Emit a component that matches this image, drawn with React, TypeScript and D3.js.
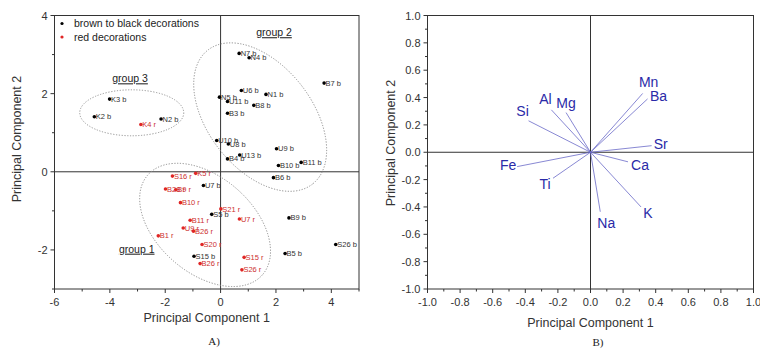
import React, { useEffect, useRef } from 'react';
import * as d3 from 'd3';

// sample scores: [label, PC1, PC2]
const brownScores: [string, number, number][] = [
  ['N7 b', 0.67, 3.03],
  ['N4 b', 1.03, 2.92],
  ['B7 b', 3.74, 2.27],
  ['U6 b', 0.75, 2.08],
  ['N1 b', 1.64, 1.98],
  ['N5 b', -0.04, 1.91],
  ['U11 b', 0.25, 1.8],
  ['B8 b', 1.2, 1.7],
  ['B3 b', 0.25, 1.5],
  ['K3 b', -4.01, 1.86],
  ['K2 b', -4.56, 1.41],
  ['N2 b', -2.15, 1.35],
  ['U10 b', -0.14, 0.8],
  ['U8 b', 0.28, 0.71],
  ['U9 b', 2.02, 0.59],
  ['U13 b', 0.69, 0.43],
  ['B4 b', 0.25, 0.33],
  ['B10 b', 2.09, 0.16],
  ['B11 b', 2.91, 0.24],
  ['B6 b', 1.91, -0.15],
  ['U7 b', -0.62, -0.35],
  ['S5 b', -0.32, -1.09],
  ['B9 b', 2.47, -1.18],
  ['S26 b', 4.16, -1.86],
  ['B5 b', 2.33, -2.09],
  ['S15 b', -0.96, -2.16]
];

const redScores: [string, number, number][] = [
  ['K4 r', -2.88, 1.21],
  ['S16 r', -1.74, -0.11],
  ['K5 r', -0.9, -0.04],
  ['B28 r', -1.99, -0.44],
  ['B9 r', -1.62, -0.46],
  ['B10 r', -1.45, -0.79],
  ['S21 r', 0.01, -0.95],
  ['U7 r', 0.68, -1.21],
  ['B11 r', -1.1, -1.24],
  ['U9 r', -1.35, -1.44],
  ['B26 r', -0.98, -1.52],
  ['B1 r', -2.25, -1.64],
  ['S20 r', -0.67, -1.86],
  ['S15 r', 0.85, -2.19],
  ['B26 r', -0.74, -2.35],
  ['S26 r', 0.77, -2.51]
];

// group outlines: center in data units, radii in px, rotation in degrees
const groups = [
  { name: 'group 1', cx: -0.56, cy: -1.36, rx: 76, ry: 48, angle: 41, lx: -3.03, ly: -2.07 },
  { name: 'group 2', cx: 1.43, cy: 1.4, rx: 85, ry: 52, angle: 52, lx: 1.93, ly: 3.47 },
  { name: 'group 3', cx: -3.21, cy: 1.51, rx: 52, ry: 23, angle: 0, lx: -3.27, ly: 2.29 }
];

// loadings
const elements = ['Si', 'Al', 'Mg', 'Mn', 'Ba', 'Sr', 'Ca', 'Fe', 'Ti', 'Na', 'K'];
const loadPC1 = [-0.38, -0.24, -0.15, 0.32, 0.35, 0.375, 0.23, -0.45, -0.23, 0.06, 0.31];
const loadPC2 = [0.23, 0.31, 0.29, 0.43, 0.39, 0.048, -0.07, -0.105, -0.19, -0.435, -0.4];
// label nudges (px) from the vector tip
const labelNudge: [number, number][] = [
  [-6, -5], [-6, -6], [0, -5], [6, -6], [11, 2], [9, 3], [12, 8], [-9, 3], [-8, 11], [6, 16], [7, 11]
];

const scoreXTicks = [-6, -4, -2, 0, 2, 4];
const scoreYTicks = [-2, 0, 2, 4];
const loadTicks = [-1, -0.8, -0.6, -0.4, -0.2, 0, 0.2, 0.4, 0.6, 0.8, 1];

const FONT = 'Arial, "Liberation Sans", sans-serif';
const AXIS = '#333';
const RED = '#e02626';
const BLUE = '#2a2aa8';

// d3.format puts a unicode minus; the original uses a plain hyphen
const hyphen = (f: (v: number) => string) => (v: number) => f(v).replace('\u2212', '-');

function drawFrame(g: any, x: any, y: any, xMajor: number[], xMinor: number[], yMajor: number[], yMinor: number[], fmt: (v: number) => string) {
  const [x0, x1] = x.range();
  const [y0, y1] = y.range();

  // zero lines
  g.append('line').attr('x1', x(0)).attr('x2', x(0)).attr('y1', y0).attr('y2', y1).attr('stroke', AXIS);
  g.append('line').attr('x1', x0).attr('x2', x1).attr('y1', y(0)).attr('y2', y(0)).attr('stroke', AXIS);

  g.append('rect')
    .attr('x', x0).attr('y', y1).attr('width', x1 - x0).attr('height', y0 - y1)
    .attr('fill', 'none').attr('stroke', AXIS).attr('stroke-width', 1);

  xMajor.forEach((v) => {
    g.append('line').attr('x1', x(v)).attr('x2', x(v)).attr('y1', y0).attr('y2', y0 + 4).attr('stroke', AXIS);
    g.append('text').attr('x', x(v)).attr('y', y0 + 17).attr('text-anchor', 'middle')
      .attr('font-size', 11).attr('fill', '#333').text(fmt(v));
  });
  xMinor.forEach((v) => {
    g.append('line').attr('x1', x(v)).attr('x2', x(v)).attr('y1', y0).attr('y2', y0 + 2.5).attr('stroke', AXIS);
  });
  yMajor.forEach((v) => {
    g.append('line').attr('x1', x0 - 4).attr('x2', x0).attr('y1', y(v)).attr('y2', y(v)).attr('stroke', AXIS);
    g.append('text').attr('x', x0 - 7).attr('y', y(v) + 4).attr('text-anchor', 'end')
      .attr('font-size', 11).attr('fill', '#333').text(fmt(v));
  });
  yMinor.forEach((v) => {
    g.append('line').attr('x1', x0 - 2.5).attr('x2', x0).attr('y1', y(v)).attr('y2', y(v)).attr('stroke', AXIS);
  });
}

const App = () => {
  const ref = useRef<SVGSVGElement | null>(null);

  useEffect(() => {
    const svg = d3.select(ref.current);
    svg.selectAll('*').remove();
    svg.attr('font-family', FONT);

    // ---------- A) scores ----------
    const xA = d3.scaleLinear().domain([-6, 5]).range([54.5, 359]);
    const yA = d3.scaleLinear().domain([-3, 4]).range([289, 15.5]);
    const gA = svg.append('g');

    drawFrame(gA, xA, yA, scoreXTicks, [-5, -3, -1, 1, 3, 5], scoreYTicks, [-3, -1, 1, 3], hyphen(d3.format('d')));

    groups.forEach((gr) => {
      gA.append('ellipse')
        .attr('cx', 0).attr('cy', 0).attr('rx', gr.rx).attr('ry', gr.ry)
        .attr('transform', `translate(${xA(gr.cx)},${yA(gr.cy)}) rotate(${gr.angle})`)
        .attr('fill', 'none').attr('stroke', '#888').attr('stroke-width', 0.9)
        .attr('stroke-dasharray', '1.2,1.6');
      gA.append('text')
        .attr('x', xA(gr.lx)).attr('y', yA(gr.ly)).attr('text-anchor', 'middle')
        .attr('font-size', 10.5).attr('fill', '#222').attr('text-decoration', 'underline')
        .text(gr.name);
    });

    const drawScores = (rows: [string, number, number][], dot: string, txt: string) => {
      rows.forEach(([name, px, py]) => {
        gA.append('circle').attr('cx', xA(px)).attr('cy', yA(py)).attr('r', 1.8).attr('fill', dot);
        gA.append('text').attr('x', xA(px) + 1.5).attr('y', yA(py) + 2.6)
          .attr('font-size', 7.5).attr('fill', txt).text(name);
      });
    };
    drawScores(brownScores, '#000', '#333');
    drawScores(redScores, RED, '#cc3030');

    // legend
    const legend = [['brown to black decorations', '#000'], ['red decorations', RED]];
    legend.forEach(([label, c], i) => {
      gA.append('circle').attr('cx', 62).attr('cy', 23.5 + i * 13.5).attr('r', 1.6).attr('fill', c);
      gA.append('text').attr('x', 74).attr('y', 27 + i * 13.5).attr('font-size', 10.5).attr('fill', '#222').text(label);
    });

    gA.append('text').attr('x', 206.7).attr('y', 322).attr('text-anchor', 'middle')
      .attr('font-size', 12.5).attr('fill', '#333').text('Principal Component 1');
    gA.append('text').attr('transform', 'translate(21,139) rotate(-90)').attr('text-anchor', 'middle')
      .attr('font-size', 12.5).attr('fill', '#333').text('Principal Component 2');
    gA.append('text').attr('x', 214).attr('y', 345).attr('text-anchor', 'middle')
      .attr('font-family', '"Liberation Serif", "DejaVu Serif", serif').attr('font-size', 11).attr('fill', '#222').text('A)');

    // ---------- B) loadings ----------
    const xB = d3.scaleLinear().domain([-1, 1]).range([427.5, 753.5]);
    const yB = d3.scaleLinear().domain([-1, 1]).range([289, 15.5]);
    const gB = svg.append('g');
    const minorB = d3.range(-9, 10, 2).map((d) => d / 10);

    drawFrame(gB, xB, yB, loadTicks, minorB, loadTicks, minorB, hyphen(d3.format('.1f')));

    elements.forEach((el, i) => {
      const ex = xB(loadPC1[i]);
      const ey = yB(loadPC2[i]);
      gB.append('line').attr('x1', xB(0)).attr('y1', yB(0)).attr('x2', ex).attr('y2', ey)
        .attr('stroke', '#6a6ac8').attr('stroke-width', 0.8);
      gB.append('text').attr('x', ex + labelNudge[i][0]).attr('y', ey + labelNudge[i][1])
        .attr('text-anchor', 'middle').attr('font-size', 14).attr('fill', BLUE).text(el);
    });

    gB.append('text').attr('x', 590.5).attr('y', 327).attr('text-anchor', 'middle')
      .attr('font-size', 12.5).attr('fill', '#333').text('Principal Component 1');
    gB.append('text').attr('transform', 'translate(395,143) rotate(-90)').attr('text-anchor', 'middle')
      .attr('font-size', 12.5).attr('fill', '#333').text('Principal Component 2');
    gB.append('text').attr('x', 598).attr('y', 346).attr('text-anchor', 'middle')
      .attr('font-family', '"Liberation Serif", "DejaVu Serif", serif').attr('font-size', 11).attr('fill', '#222').text('B)');
  }, []);

  return (
    <svg
      ref={ref}
      width={760}
      height={349}
      style={{ position: 'absolute', left: 0, top: 0, background: '#fff' }}
    />
  );
};

export default App;
